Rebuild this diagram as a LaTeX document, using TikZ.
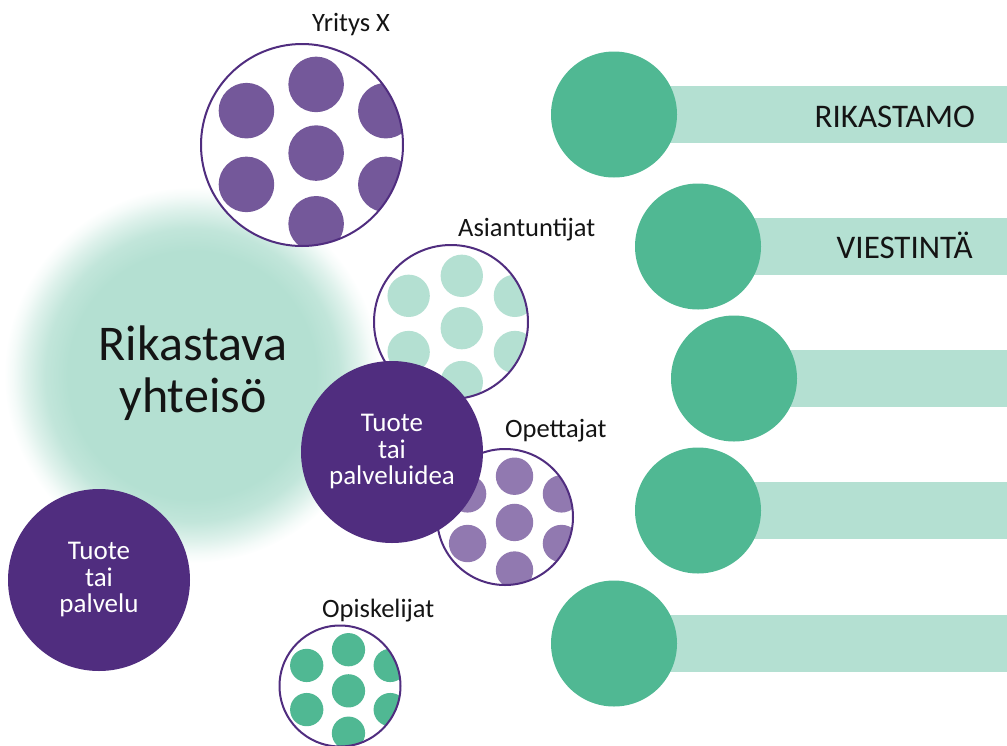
\documentclass[tikz,border=0pt]{standalone}
\usepackage{fontspec}
\setmainfont{Carlito}

\definecolor{dpurple}{RGB}{80,45,127}
\definecolor{mpurple}{RGB}{116,88,154}
\definecolor{lpurple}{RGB}{145,121,176}
\definecolor{dgreen}{RGB}{80,184,147}
\definecolor{lgreen}{RGB}{180,224,210}
\definecolor{ink}{RGB}{20,20,20}

% soft glow: solid centre fading out to white
\pgfdeclareradialshading{glowshade}{\pgfpoint{0bp}{0bp}}{%
  color(0bp)=(lgreen); color(16.5bp)=(lgreen); color(19.5bp)=(lgreen!82!white);
  color(22bp)=(lgreen!45!white); color(23.8bp)=(lgreen!14!white);
  color(25bp)=(white); color(50bp)=(white)}

% dotted disc: name, centre, radius, dot colour
\newcommand\dotdisc[4]{%
  \begin{scope}[shift={#2}]
    \node[circle, fill=white, inner sep=0, minimum size={2*#3pt}] (#1) at (0,0) {};
    \begin{scope}
      \clip (0,0) circle[radius={#3pt}];
      \foreach \dx/\dy in {0.14/-0.6, 0.14/0.08, 0.14/0.78,
                           -0.55/-0.34, -0.55/0.39, 0.83/-0.34, 0.83/0.39}
        \fill[#4] (\dx*#3, \dy*#3) circle[radius={0.275*#3pt}];
    \end{scope}
    \draw[dpurple, line width=2pt] (0,0) circle[radius={#3pt}];
  \end{scope}}

\tikzset{
  lbl/.style={anchor=base west, inner sep=0, text=ink, font=\fontsize{26.5}{30}\selectfont},
  pdisc/.style={circle, fill=dpurple, inner sep=0, minimum size=182pt,
    text=white, align=center, font=\fontsize{27}{26.5}\selectfont},
  gdisc/.style={circle, fill=dgreen, inner sep=0, minimum size=126pt},
  barbox/.style={rectangle, fill=lgreen, inner sep=0, minimum height=57pt, anchor=east},
  bartext/.style={anchor=base east, inner sep=0, text=ink, font=\fontsize{33}{36}\selectfont},
}

\begin{document}
\begin{tikzpicture}[x=1pt, y=-1pt]
  \useasboundingbox (0,0) rectangle (1007,745);

  % community glow
  \shade[shading=glowshade] (192,375) circle[radius=188pt];
  \node[align=center, inner sep=0, text=ink, font=\fontsize{50}{52}\selectfont] (yhteiso)
    at (193,373) {Rikastava\\yhteisö};

  % groups
  \dotdisc{yritys}{(302,145)}{101}{mpurple}
  \node[lbl] (lyritys) at (312,31) {Yritys X};

  \dotdisc{asiant}{(451,322)}{77}{lgreen}
  \node[lbl] (lasiant) at (458,236) {Asiantuntijat};

  \dotdisc{opett}{(505,517)}{68}{lpurple}
  \node[lbl] (lopett) at (505,437) {Opettajat};

  \dotdisc{opisk}{(340,686)}{60.5}{dgreen}
  \node[lbl] (lopisk) at (322,617) {Opiskelijat};

  % product discs
  \node[pdisc] (idea) at (392,452) {Tuote\\tai\\palveluidea};
  \node[pdisc] (tuote) at (99,580) {Tuote\\tai\\palvelu};

  % right-hand bars
  \foreach \i/\cy/\cx in {1/114.5/614, 2/246.5/698, 3/378.5/734, 4/510.5/698, 5/643.5/614} {
    \node[barbox, minimum width={(1007-\cx)*1pt}] (bar\i) at (1007,\cy) {};
    \node[gdisc] (dot\i) at (\cx,\cy) {};
  }
  \node[bartext] (t1) at (975,127) {RIKASTAMO};
  \node[bartext] (t2) at (973,258) {VIESTINTÄ};
\end{tikzpicture}
\end{document}
